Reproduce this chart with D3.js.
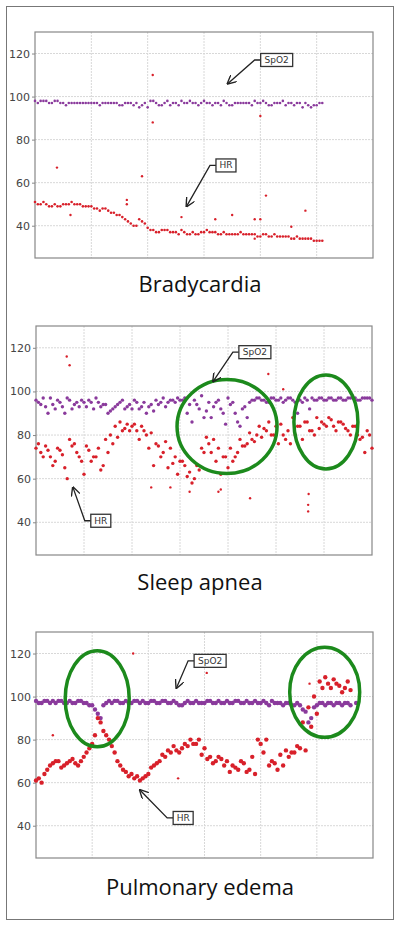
<!DOCTYPE html>
<html><head><meta charset="utf-8">
<script src="https://cdn.jsdelivr.net/npm/d3@7"></script>
<style>
body{margin:0;background:#fff;}
.tick text{font:11px "DejaVu Sans",sans-serif;fill:#444;}
.title{font:22px "Open Sans",sans-serif;fill:#111;text-anchor:middle;}
.lbl{font:9px "DejaVu Sans",sans-serif;fill:#333;}
</style></head><body>
<svg width="400" height="926"></svg>
<script>
// ---- Bradycardia (step 0.1 / offset 0.05)
const bHR = [51,50,50,49,49,50,50,50,50,49,49,48,48,47,46,45,43,41,40,42,39,38,37,38,37,37,38,36,37,36,37,37,37,36,36,36,36,36,36,36,35,36,35,35,35,35,34,34,34,34,33,33];
const bHR2 = [50,51,49,50,49,50,51,50,49,49,48,47,48,46,45,44,42,40,43,41,38,37,38,38,37,36,37,36,36,37,38,37,36,37,36,36,37,36,36,35,36,35,36,35,35,34,35,34,34,33,33];
const bSp = [98,98,98,97,98,97,97,97,97,97,97,97,97,97,97,96,97,97,97,96,95,98,96,97,96,97,98,97,97,96,98,97,97,96,97,96,97,97,97,98,97,97,96,97,98,97,96,97,97,95,96,97];
const bSp2 = [97,98,97,98,97,96,97,97,97,97,97,96,97,97,97,96,97,96,95,97,98,97,96,98,97,96,97,98,97,97,97,96,97,98,96,97,97,97,96,97,98,96,97,97,96,97,97,95,96,96,97];
const bOut = [[0.39,67],[2.09,110],[2.09,88],[0.63,45],[1.9,63],[1.63,52],[1.63,50],[2.6,44],[3.2,43],[3.5,45],[3.9,43],[4.0,43],[4.1,54],[4.0,91],[4.8,47],[4.55,39.5],[3.9,34]];

// ---- Sleep apnea
const aHR = [74,72,75,70,68,73,65,78,76,70,62,73,70,74,66,72,76,79,82,85,84,82,84,80,81,76,70,77,74,70,68,66,63,60,64,72,76,78,74,70,65,68,72,75,76,78,80,79,82,80,84,85,78,76,80,84,86,82,80,83,85,88,84,86,85,82,84,80,79,82,74];
const aHR2 = [76,70,73,66,74,71,60,75,72,68,75,68,70,64,78,80,84,86,83,82,85,78,82,74,66,75,72,65,67,62,68,61,58,66,74,79,72,68,62,70,74,70,78,75,81,77,84,83,86,80,76,80,82,88,84,78,86,82,88,86,84,87,82,86,83,80,84,78,72,80];
const aSp = [96,94,93,97,92,95,90,96,94,93,95,96,92,95,94,90,92,94,96,93,92,95,93,90,94,96,95,93,96,95,96,97,94,96,92,88,95,93,96,90,97,95,86,92,88,96,97,96,95,97,96,97,96,97,95,96,97,92,96,97,96,97,96,97,96,97,97,96,97,97,96];
const aSp2 = [95,97,90,94,96,93,97,92,95,96,93,95,97,93,94,91,93,95,92,94,96,92,95,93,91,94,97,95,96,97,96,90,86,94,98,91,88,95,92,85,94,90,84,93,95,96,97,96,95,97,96,95,97,96,90,95,96,97,96,97,96,97,96,97,96,97,97,96,97,97];
const aOut = [[0.64,116],[0.7,112],[4.84,108],[5.67,45],[5.67,48],[5.68,53],[4.46,51],[2.8,56],[2.4,56],[3.2,54],[3.8,54],[3.85,55],[5.15,101]];

// ---- Pulmonary edema
const pHR = [61,60,66,69,70,68,70,69,70,74,78,90,84,80,74,68,65,64,63,62,64,68,70,72,74,75,76,77,78,80,76,72,70,71,70,68,66,69,66,64,78,80,70,66,68,72,74,76,75,86,92,104,106,108,105,104,103];
const pHR2 = [62,64,68,70,67,69,71,68,72,76,82,88,82,77,70,66,63,62,61,63,67,69,73,75,77,74,78,80,78,73,71,69,72,68,65,67,70,65,72,80,74,68,69,73,75,74,77,88,95,100,107,109,104,106,102,107];
const pSp = [98,97,98,98,98,97,98,97,98,97,96,92,96,98,98,97,98,97,98,98,97,98,97,98,97,97,96,98,97,97,97,98,97,97,98,97,98,97,97,98,97,97,98,97,96,97,96,96,93,90,96,97,97,96,97,97,96,97];
const pSp2 = [97,98,97,97,98,97,97,98,97,96,94,90,97,97,98,97,97,98,97,97,98,97,98,97,98,96,97,97,98,97,98,97,98,97,97,98,97,98,97,97,98,96,97,97,97,96,97,94,88,95,97,96,97,97,96,97];
const pOut = [[1.73,120],[3.04,111],[0.3,82],[4.87,106],[2.53,62]];

const yTicks = [40,60,80,100,120];
const HR_COL = "#d8202a", SP_COL = "#8a3a9c", GREEN = "#1c8a1c";

const svg = d3.select("svg");
svg.append("rect").attr("x",6.5).attr("y",6.5).attr("width",387).attr("height",913)
	.attr("fill","none").attr("stroke","#777");

const defs = svg.append("defs");
defs.append("marker").attr("id","ah").attr("viewBox","0 0 10 10").attr("refX",9).attr("refY",5)
	.attr("markerWidth",7).attr("markerHeight",7).attr("orient","auto")
	.append("path").attr("d","M0,0L10,5L0,10").attr("fill","none").attr("stroke","#222").attr("stroke-width",1.5);

const panels = [
	{top:32, bottom:258, left:35, right:373, xMax:6, title:"Bradycardia", ty:292, hr:bHR, hr2:bHR2, sp:bSp, sp2:bSp2, out:bOut, r:1.3,
		labels:[{t:"SpO2", bx:4.29, bv:117, tx:3.42, tv:106}, {t:"HR", bx:3.39, bv:68, tx:2.69, tv:49}], ell:[]},
	{top:326, bottom:555, left:36, right:372, xMax:7, title:"Sleep apnea", ty:590, hr:aHR, hr2:aHR2, sp:aSp, sp2:aSp2, out:aOut, r:1.7,
		labels:[{t:"SpO2", bx:4.56, bv:118, tx:3.69, tv:104.6}, {t:"HR", bx:1.35, bv:40.7, tx:0.77, tv:56}],
		ell:[{t:3.98, v:83.9, rx:50, ry:47}, {t:6.04, v:86, rx:32, ry:47}]},
	{top:632, bottom:858, left:36, right:373, xMax:6, title:"Pulmonary edema", ty:895, hr:pHR, hr2:pHR2, sp:pSp, sp2:pSp2, out:pOut, r:2.2,
		labels:[{t:"SpO2", bx:3.1, bv:116.6, tx:2.5, tv:104}, {t:"HR", bx:2.62, bv:43.6, tx:1.85, tv:56.6}],
		ell:[{t:1.09, v:99, rx:32, ry:48}, {t:5.14, v:102, rx:35, ry:45}]}
];

panels.forEach(p => {
	const x = d3.scaleLinear().domain([0,p.xMax]).range([p.left,p.right]);
	const y = d3.scaleLinear().domain([25,130]).range([p.bottom,p.top]);
	const g = svg.append("g");

	//* grid
	g.selectAll(".vg").data(d3.range(1,p.xMax)).enter().append("line")
		.attr("x1",d=>x(d)).attr("x2",d=>x(d)).attr("y1",p.top).attr("y2",p.bottom)
		.attr("stroke","#d8d8d8").attr("stroke-dasharray","2,1");
	g.selectAll(".hg").data(yTicks).enter().append("line")
		.attr("x1",p.left).attr("x2",p.right).attr("y1",d=>y(d)).attr("y2",d=>y(d))
		.attr("stroke","#d8d8d8").attr("stroke-dasharray","2,1");
	g.append("rect").attr("x",p.left).attr("y",p.top).attr("width",p.right-p.left).attr("height",p.bottom-p.top)
		.attr("fill","none").attr("stroke","#888").attr("stroke-width",1.2);

	const ax = g.append("g").attr("transform",`translate(${p.left},0)`)
		.call(d3.axisLeft(y).tickValues(yTicks).tickSize(3).tickPadding(2));
	ax.select(".domain").remove();
	ax.selectAll(".tick line").attr("stroke","#888");

	//* points
	const pts = (arr, off, col) => g.append("g").selectAll("circle").data(arr).enter().append("circle")
		.attr("cx",(d,i)=>x(i*0.1+off)).attr("cy",d=>y(d)).attr("r",p.r).attr("fill",col);
	pts(p.sp,0,SP_COL); pts(p.sp2,0.05,SP_COL);
	pts(p.hr,0,HR_COL); pts(p.hr2,0.05,HR_COL);
	g.append("g").selectAll("circle").data(p.out).enter().append("circle")
		.attr("cx",d=>x(d[0])).attr("cy",d=>y(d[1])).attr("r",1.2).attr("fill",HR_COL);

	//* ellipses
	g.selectAll(".el").data(p.ell).enter().append("ellipse")
		.attr("cx",d=>x(d.t)).attr("cy",d=>y(d.v)).attr("rx",d=>d.rx).attr("ry",d=>d.ry)
		.attr("fill","none").attr("stroke",GREEN).attr("stroke-width",3.5);

	//* annotation boxes
	p.labels.forEach(l => {
		const w = l.t.length*6+8, h = 13;
		const cx = x(l.bx), cy = y(l.bv);
		const ex = cx - w/2 - 6;
		g.append("path").attr("d",`M${cx-w/2},${cy}L${ex},${cy}L${x(l.tx)},${y(l.tv)}`)
			.attr("fill","none").attr("stroke","#222").attr("stroke-width",1.3).attr("marker-end","url(#ah)");
		g.append("rect").attr("x",cx-w/2).attr("y",cy-h/2).attr("width",w).attr("height",h)
			.attr("fill","#fff").attr("stroke","#333").attr("stroke-width",1.3);
		g.append("text").attr("class","lbl").attr("x",cx).attr("y",cy+3).attr("text-anchor","middle").text(l.t);
	});

	svg.append("text").attr("class","title").attr("x",200).attr("y",p.ty).text(p.title);
});
</script>
</body></html>
